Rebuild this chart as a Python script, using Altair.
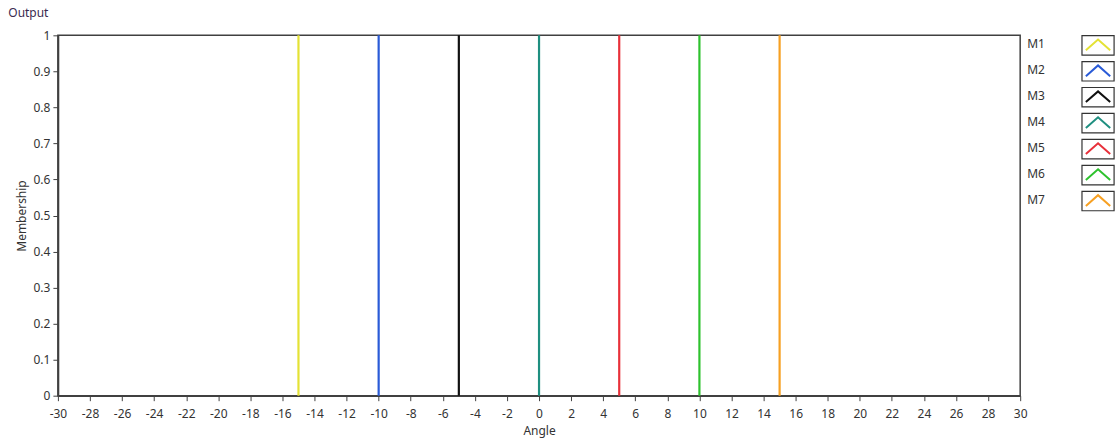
import altair as alt
import pandas as pd

names = ["M1", "M2", "M3", "M4", "M5", "M6", "M7"]
centers = [-15, -10, -5, 0, 5, 10, 15]
colors = ["#e4e235", "#2a5bd7", "#111111", "#1f8f80", "#e8303a", "#2ec22e", "#f7a022"]
x_ticks = list(range(-30, 31, 2))
y_ticks = [round(i * 0.1, 1) for i in range(11)]
low = [0] * 7
peak = [1] * 7

df = pd.DataFrame({"name": names, "center": centers, "low": low, "peak": peak})

FONT = "Noto Sans"
TXT = "#333333"
AX = "#404040"

color_scale = alt.Scale(domain=names, range=colors)

main = alt.Chart(df).mark_rule(strokeWidth=2.2).encode(
    x=alt.X("center:Q", title="Angle",
            scale=alt.Scale(domain=[-30, 30], nice=False),
            axis=alt.Axis(values=x_ticks, labelExpr="'' + datum.value",
                          labelFlush=False, labelPadding=8, titlePadding=6)),
    y=alt.Y("low:Q", title="Membership",
            scale=alt.Scale(domain=[0, 1], nice=False),
            axis=alt.Axis(values=y_ticks, format=".1~f",
                          labelPadding=3, titlePadding=5)),
    y2="peak:Q",
    color=alt.Color("name:N", scale=color_scale, legend=None),
).properties(width=964, height=361)

leg_base = alt.Chart(df).encode(
    y=alt.Y("name:N", axis=None, sort=names,
            scale=alt.Scale(paddingInner=0, paddingOuter=0)),
)
leg_text = leg_base.mark_text(align="left", baseline="middle", font=FONT,
                              fontSize=12, color=TXT, dy=-4).encode(
    x=alt.value(2), text="name:N")
leg_box = leg_base.mark_point(
    shape="M-1.65,-1L1.65,-1L1.65,1L-1.65,1Z", filled=True, fill="white",
    stroke="#333333", strokeWidth=1.2, size=380, opacity=1).encode(
    x=alt.value(73), yOffset=alt.value(-3))
leg_icon = leg_base.mark_point(
    shape="M-1.25,0.5L0,-0.6L1.25,0.5", filled=False, strokeWidth=2,
    size=380, opacity=1).encode(
    x=alt.value(73), yOffset=alt.value(-3),
    color=alt.Color("name:N", scale=color_scale, legend=None))
legend = alt.layer(leg_text, leg_box, leg_icon).properties(
    width=90, height=182, view=alt.ViewBackground(stroke="transparent"))

chart = alt.hconcat(main, legend, spacing=5, bounds="flush").resolve_scale(
    y="independent"
).properties(
    title=alt.TitleParams("Output", anchor="start", fontSize=12, font=FONT,
                          fontWeight="normal", color="#3a2a50", dx=-6,
                          offset=9),
    padding={"left": 8, "top": 6, "right": 0, "bottom": 0},
).configure_view(
    stroke=AX, strokeWidth=1.5
).configure_axis(
    labelFont=FONT, titleFont=FONT, labelFontSize=12, titleFontSize=12,
    labelColor=TXT, titleColor=TXT, titleFontWeight="normal",
    domainColor=AX, domainWidth=1.8, tickColor=AX, tickSize=5,
    grid=False,
)

chart.save("out.html", embed_options={"renderer": "svg", "actions": False})
